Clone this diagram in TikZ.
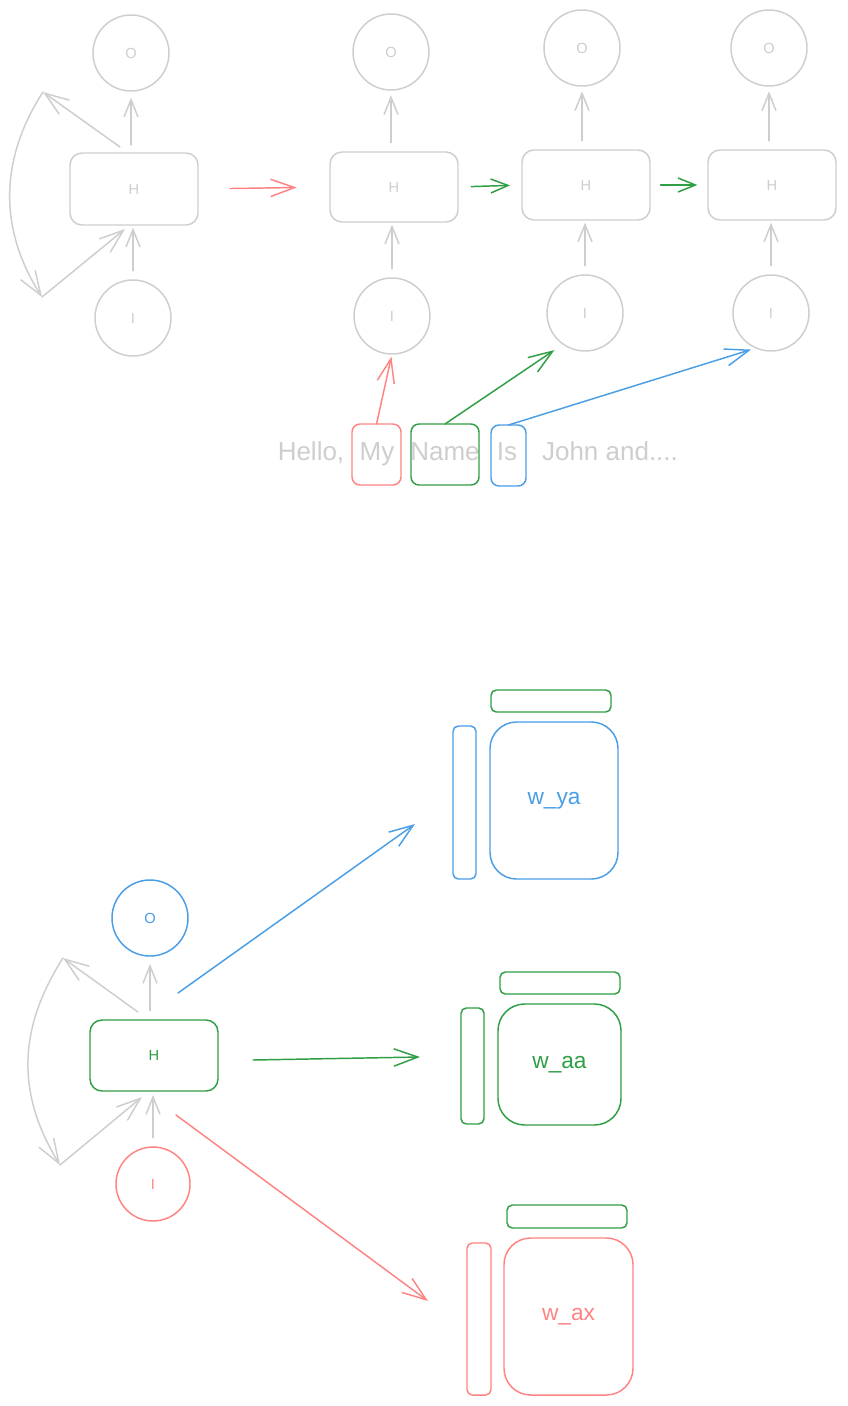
\documentclass[tikz,border=0pt]{standalone}
\usepackage{fontspec}
\setmainfont{Liberation Sans}
\usetikzlibrary{arrows.meta}
\definecolor{cgray}{RGB}{206,206,206}
\definecolor{cred}{RGB}{255,131,131}
\definecolor{cgreen}{RGB}{47,158,68}
\definecolor{cblue}{RGB}{74,158,230}
\tikzset{
  base/.style={line width=1.1pt, inner sep=0pt, outer sep=0pt},
  circ/.style={base, draw, circle, minimum size=57pt, font=\fontsize{11}{13}\selectfont},
  hbox/.style={base, draw, rounded corners=9pt, minimum width=96pt, minimum height=54pt, font=\fontsize{11}{13}\selectfont},
  wbox/.style={base, draw, rounded corners=6pt, minimum height=45.75pt},
  bar/.style={base, draw, rounded corners=4pt},
  mat/.style={base, draw, rounded corners=20pt, font=\fontsize{17}{20}\selectfont},
  word/.style={anchor=base, text=cgray, font=\fontsize{19.5}{23}\selectfont, inner sep=0pt},
  arr/.style={-{Straight Barb[length=13pt,width=10.5pt]}, line width=1.1pt, line cap=round, line join=round},
  arrL/.style={-{Straight Barb[length=18pt,width=13pt]}, line width=1.1pt, line cap=round, line join=round},
}
\begin{document}
\begin{tikzpicture}[x=0.75pt,y=-0.75pt]
\path[use as bounding box, fill=white] (0,0) rectangle (847,1406);

% ---------- folded RNN (top left) ----------
\node[circ, cgray] (o0) at (131,53) {O};
\node[hbox, cgray] (h0) at (134,189) {H};
\node[circ, cgray] (i0) at (133,318) {I};
\draw[arr, cgray, shorten <=6pt, shorten >=5pt] (o0.south |- h0.north) -- (o0.south);
\draw[arr, cgray, shorten <=7pt, shorten >=2pt] (i0.north) -- (i0.north |- h0.south);
\coordinate (ls0) at (120,147);
\coordinate (lt0) at (43,92);
\coordinate (lb0) at (42,297);
\coordinate (le0) at (125,229);
\draw[arrL, cgray] (ls0) -- (lt0);
\draw[arrL, cgray] (lt0) .. controls (-1,160) and (-1,230) .. (lb0);
\draw[arrL, cgray] (lb0) -- (le0);

% ---------- unrolled RNN ----------
\node[circ, cgray] (o1) at (391,52) {O};
\node[hbox, cgray, minimum height=52.5pt] (h1) at (394,187) {H};
\node[circ, cgray] (i1) at (392,316) {I};
\node[circ, cgray] (o2) at (582,48) {O};
\node[hbox, cgray, minimum height=52.5pt] (h2) at (586,185) {H};
\node[circ, cgray] (i2) at (585,313) {I};
\node[circ, cgray] (o3) at (769,48) {O};
\node[hbox, cgray, minimum height=52.5pt] (h3) at (772,185) {H};
\node[circ, cgray] (i3) at (771,313) {I};
\foreach \k in {1,2,3}{
  \draw[arr, cgray, shorten <=7pt, shorten >=4pt] (o\k.south |- h\k.north) -- (o\k.south);
  \draw[arr, cgray, shorten <=7pt, shorten >=2pt] (i\k.north) -- (i\k.north |- h\k.south);
}
\draw[arrL, cred, shorten <=24pt, shorten >=25pt] (h0.east) -- (h1.west);
\draw[arr, cgreen, shorten <=10pt, shorten >=9pt] (h1.east) -- (h2.west);
\draw[arr, cgreen, shorten <=8pt, shorten >=8pt] (h2.east) -- (h3.west);

% ---------- sentence ----------
\node[word] (whello) at (311,460) {Hello,};
\node[word] (wmy) at (377,460) {My};
\node[word] (wname) at (445,460) {Name};
\node[word] (wis) at (507,460) {Is};
\node[word] (wrest) at (610,460) {John and....};
\node[wbox, cred, minimum width=36.75pt] (bmy) at (376.5,454.5) {};
\node[wbox, cgreen, minimum width=51pt] (bname) at (445,454.5) {};
\node[wbox, cblue, minimum width=26.25pt] (bis) at (508.5,455.5) {};
\draw[arrL, cred, shorten >=2pt] (bmy.north) -- (i1.south);
\draw[arrL, cgreen, shorten >=8pt] (bname.north) -- (i2.235);
\draw[arrL, cblue, shorten >=4pt] (bis.north) -- (i3.247);

% ---------- folded RNN (bottom) ----------
\node[circ, cblue] (ob) at (150,918) {O};
\node[hbox, cgreen, minimum height=53.25pt] (hb) at (154,1055.5) {H};
\node[circ, cred, minimum size=55.5pt] (ib) at (153,1184) {I};
\draw[arr, cgray, shorten <=7pt, shorten >=6pt] (ob.south |- hb.north) -- (ob.south);
\draw[arr, cgray, shorten <=7pt, shorten >=3pt] (ib.north) -- (ib.north |- hb.south);
\coordinate (lsb) at (138,1012);
\coordinate (ltb) at (63,958);
\coordinate (lbb) at (60,1165);
\coordinate (leb) at (142,1097);
\draw[arrL, cgray] (lsb) -- (ltb);
\draw[arrL, cgray] (ltb) .. controls (17,1030) and (17,1095) .. (lbb);
\draw[arrL, cgray] (lbb) -- (leb);

% ---------- weight matrices ----------
\node[bar, cgreen, minimum width=90pt, minimum height=16.5pt] (tya) at (551,701) {};
\node[bar, cblue, minimum width=17.25pt, minimum height=114.75pt] (vya) at (464.5,802.5) {};
\node[mat, cblue, text=cblue, minimum width=96pt, minimum height=117.75pt] (mya) at (554,800.5) {w\_ya};

\node[bar, cgreen, minimum width=90pt, minimum height=16.5pt] (taa) at (560,983) {};
\node[bar, cgreen, minimum width=17.25pt, minimum height=87pt] (vaa) at (472.5,1066) {};
\node[mat, cgreen, text=cgreen, minimum width=92.25pt, minimum height=90.75pt] (maa) at (559.5,1064.5) {w\_aa};

\node[bar, cgreen, minimum width=90pt, minimum height=17.25pt] (tax) at (567,1216.5) {};
\node[bar, cred, minimum width=18pt, minimum height=114pt] (vax) at (479,1319) {};
\node[mat, cred, text=cred, minimum width=96.75pt, minimum height=117.75pt] (max) at (568.5,1316.5) {w\_ax};

% ---------- arrows from H to matrices ----------
\coordinate (bya1) at (178,993);
\coordinate (bya2) at (415,824);
\coordinate (baa1) at (253,1060);
\coordinate (baa2) at (420,1057);
\coordinate (bax1) at (176,1115);
\coordinate (bax2) at (428,1301);
\draw[arrL, cblue] (bya1) -- (bya2);
\draw[arrL, cgreen] (baa1) -- (baa2);
\draw[arrL, cred] (bax1) -- (bax2);
\end{tikzpicture}
\end{document}
